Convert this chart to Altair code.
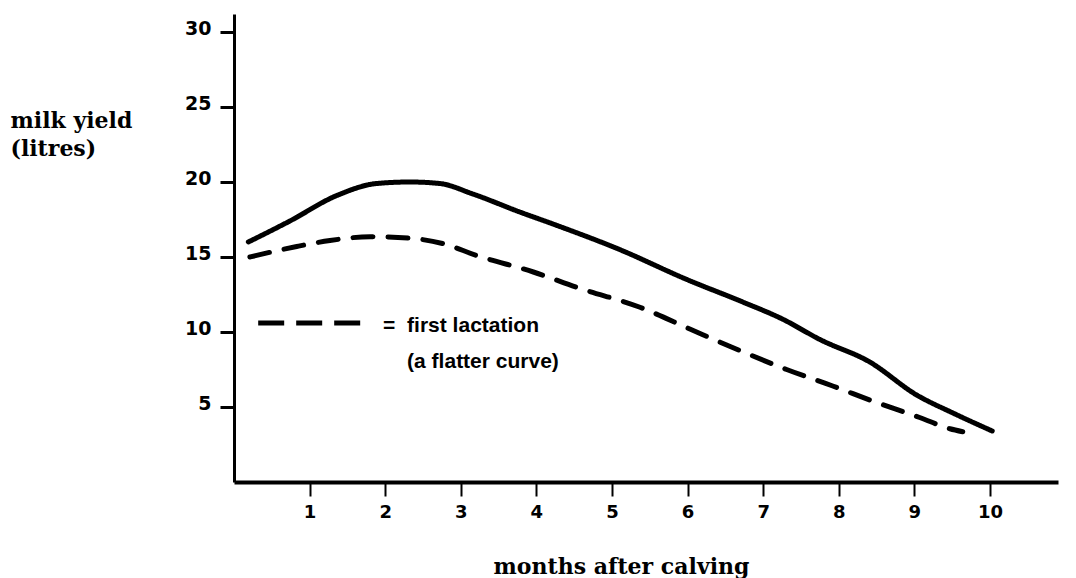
import altair as alt
import pandas as pd

# Subsequent lactation (solid curve)
solid_x = [0.19, 0.74, 1.36, 1.89, 2.33, 2.72, 3.16, 3.78, 4.22, 5.1, 5.99, 6.73, 7.26, 7.75, 8.41, 9.03, 9.51, 10.03]
solid_y = [16.0, 17.4, 19.1, 19.9, 20.0, 19.9, 19.2, 18.0, 17.2, 15.5, 13.5, 12.0, 10.85, 9.5, 8.0, 5.8, 4.6, 3.4]

# First lactation (dashed curve)
first_x = [0.21, 0.83, 1.27, 1.8, 2.33, 2.76, 3.21, 3.96, 4.58, 5.37, 6.03, 6.65, 7.31, 7.92, 8.5, 9.07, 9.47, 9.64]
first_y = [15.0, 15.7, 16.1, 16.35, 16.25, 15.9, 15.1, 14.0, 12.9, 11.65, 10.2, 8.85, 7.5, 6.4, 5.3, 4.3, 3.55, 3.35]

x_ticks = [1, 2, 3, 4, 5, 6, 7, 8, 9, 10]
y_ticks = [5, 10, 15, 20, 25, 30]

# Annotation key (in data units)
key_line_x = [0.32, 1.76]
key_line_y = [10.6, 10.6]
key_text = ["=", "first lactation", "(a flatter curve)"]
key_text_x = [1.97, 2.29, 2.29]
key_text_y = [10.0, 10.0, 7.6]

rows = []
for xv, yv in zip(solid_x, solid_y):
    rows.append({"month": xv, "yield": yv, "series": "subsequent"})
for xv, yv in zip(first_x, first_y):
    rows.append({"month": xv, "yield": yv, "series": "first"})
df = pd.DataFrame(rows)

key_line_df = pd.DataFrame({"month": key_line_x, "yield": key_line_y})
key_text_df = pd.DataFrame({"label": key_text, "month": key_text_x, "yield": key_text_y})

x_scale = alt.Scale(domain=[0, 10.9], nice=False, zero=False)
y_scale = alt.Scale(domain=[0, 31.2], nice=False, zero=False)

x_axis = alt.Axis(
    values=x_ticks, format="d", grid=False, title="months after calving",
    tickSize=14, tickWidth=2, tickColor="black",
    domainWidth=4, domainColor="black",
    labelFont="DejaVu Sans", labelFontWeight="bold", labelFontSize=18,
    labelColor="black", labelPadding=7, labelBaseline="top",
    titleFont="DejaVu Serif", titleFontWeight="bold", titleFontSize=22,
    titleColor="black", titleX=387, titleY=91, titleAlign="center",
    titleBaseline="alphabetic",
)
y_axis = alt.Axis(
    values=y_ticks, format="d", grid=False, title=["milk yield", "(litres)"],
    tickSize=14, tickWidth=3, tickColor="black",
    domainWidth=3, domainColor="black",
    labelFont="DejaVu Sans", labelFontWeight="bold", labelFontSize=19,
    labelColor="black", labelPadding=9, labelBaseline="alphabetic", labelOffset=2,
    titleFont="DejaVu Serif", titleFontWeight="bold", titleFontSize=22,
    titleColor="black", titleAngle=0, titleAlign="left",
    titleBaseline="alphabetic", titleX=-224, titleY=113, titleLineHeight=28,
)

lines = alt.Chart(df).mark_line(
    color="black", strokeWidth=5, interpolate="monotone", strokeCap="round"
).encode(
    x=alt.X("month:Q", scale=x_scale, axis=x_axis),
    y=alt.Y("yield:Q", scale=y_scale, axis=y_axis),
    strokeDash=alt.StrokeDash(
        "series:N",
        scale=alt.Scale(domain=["subsequent", "first"], range=[[1, 0], [20, 15]]),
        legend=None,
    ),
    detail="series:N",
)

key_line = alt.Chart(key_line_df).mark_line(
    color="black", strokeWidth=5, strokeDash=[26, 12]
).encode(
    x=alt.X("month:Q", scale=x_scale),
    y=alt.Y("yield:Q", scale=y_scale),
)

key_label = alt.Chart(key_text_df).mark_text(
    font="Liberation Sans", fontWeight="bold", fontSize=21, color="black",
    align="left", baseline="alphabetic",
).encode(
    x=alt.X("month:Q", scale=x_scale),
    y=alt.Y("yield:Q", scale=y_scale),
    text="label:N",
)

chart = alt.layer(lines, key_line, key_label).properties(
    width=824, height=468,
    background="white",
    autosize=alt.AutoSizeParams(type="none"),
    padding={"left": 226, "top": 6, "right": 8, "bottom": 100},
).configure_view(stroke=None)

chart.save("out.html", embed_options={"renderer": "svg", "actions": False})
